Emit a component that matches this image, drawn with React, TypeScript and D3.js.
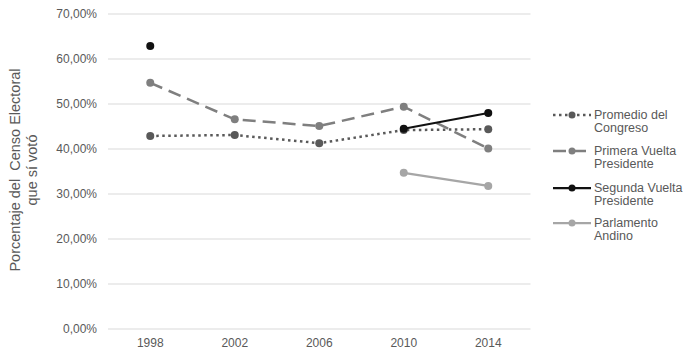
import React from "react";
import * as d3 from "d3";

const years = ["1998", "2002", "2006", "2010", "2014"];
const promedioCongreso = [42.9, 43.1, 41.3, 44.2, 44.4];
const primeraVuelta = [54.7, 46.6, 45.1, 49.4, 40.1];
const segundaVuelta: (number | null)[] = [62.9, null, null, 44.5, 48.0];
const parlamentoAndino: (number | null)[] = [null, null, null, 34.7, 31.8];
const yTicks = [0, 10, 20, 30, 40, 50, 60, 70];

const seriesNames = [
  ["Promedio del", "Congreso"],
  ["Primera Vuelta", "Presidente"],
  ["Segunda Vuelta", "Presidente"],
  ["Parlamento", "Andino"],
];

export default function App() {
  const W = 689, H = 356;
  const left = 108, right = 530.5, top = 14, bottom = 329;
  const x = d3.scaleBand<string>().domain(years).range([left, right]);
  const y = d3.scaleLinear().domain([0, 70]).range([bottom, top]);
  const cx = (yr: string) => (x(yr) as number) + x.bandwidth() / 2;
  const fmt = (v: number) => v.toFixed(2).replace(".", ",") + "%";
  const font = "Liberation Sans, Arial, sans-serif";

  const series = [
    { vals: promedioCongreso as (number | null)[], color: "#595959", dash: "2.5,3.5", width: 2.5, cap: "butt" },
    { vals: primeraVuelta as (number | null)[], color: "#7f7f7f", dash: "13,7", width: 2.5, cap: "butt" },
    { vals: segundaVuelta, color: "#111111", dash: undefined, width: 2.25, cap: "butt" },
    { vals: parlamentoAndino, color: "#a6a6a6", dash: undefined, width: 2.25, cap: "butt" },
  ];

  const line = d3
    .line<[string, number | null]>()
    .defined((d) => d[1] !== null)
    .x((d) => cx(d[0]))
    .y((d) => y(d[1] as number));

  const legendY = [115, 151, 188, 223];

  return (
    <svg width={W} height={H} style={{ position: "absolute", left: 0, top: 0, background: "#fff" }}>
      <rect width={W} height={H} fill="#fff" />
      {yTicks.map((t) => (
        <g key={t}>
          <line x1={left} x2={right} y1={y(t)} y2={y(t)} stroke="#d9d9d9" strokeWidth={1} />
          <text x={97} y={y(t)} dy="0.35em" textAnchor="end" fontSize={12} fill="#595959" fontFamily={font}>
            {fmt(t)}
          </text>
        </g>
      ))}
      {years.map((yr) => (
        <text key={yr} x={cx(yr)} y={347} textAnchor="middle" fontSize={12} fill="#595959" fontFamily={font}>
          {yr}
        </text>
      ))}
      <g transform="translate(20,170) rotate(-90)">
        <text x={0} y={0} textAnchor="middle" fontSize={14.5} fill="#595959" fontFamily={font} style={{ whiteSpace: "pre" }}>
          {"Porcentaje del  Censo Electoral"}
        </text>
        <text x={0} y={17} textAnchor="middle" fontSize={14.5} fill="#595959" fontFamily={font}>
          que sí votó
        </text>
      </g>
      {series.map((s, i) => (
        <g key={i}>
          <path
            d={line(years.map((yr, j) => [yr, s.vals[j]] as [string, number | null])) || ""}
            fill="none"
            stroke={s.color}
            strokeWidth={s.width}
            strokeDasharray={s.dash}
            strokeLinecap={s.cap as any}
          />
          {years.map((yr, j) =>
            s.vals[j] === null ? null : (
              <circle key={yr} cx={cx(yr)} cy={y(s.vals[j] as number)} r={4} fill={s.color} />
            )
          )}
        </g>
      ))}
      {series.map((s, i) => (
        <g key={"lg" + i}>
          <line
            x1={553}
            x2={591}
            y1={legendY[i]}
            y2={legendY[i]}
            stroke={s.color}
            strokeWidth={s.width}
            strokeDasharray={s.dash}
            strokeLinecap={s.cap as any}
          />
          <circle cx={572} cy={legendY[i]} r={3.5} fill={s.color} />
          <text x={594} y={legendY[i]} dy="0.35em" fontSize={12.5} fill="#595959" fontFamily={font}>
            {seriesNames[i][0]}
          </text>
          <text x={594} y={legendY[i] + 13} dy="0.35em" fontSize={12.5} fill="#595959" fontFamily={font}>
            {seriesNames[i][1]}
          </text>
        </g>
      ))}
    </svg>
  );
}
